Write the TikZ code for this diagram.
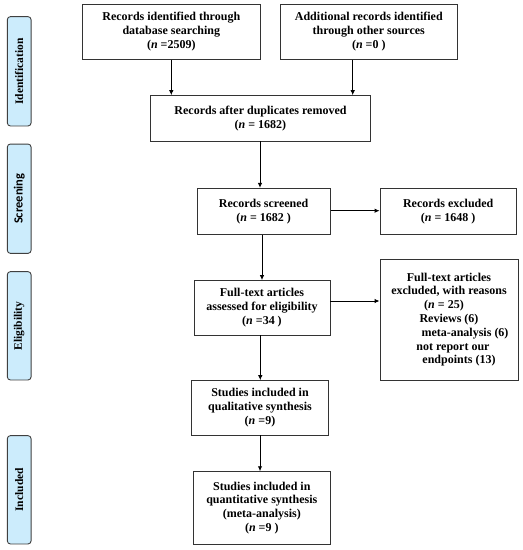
\documentclass[tikz,border=0pt]{standalone}
\usepackage{fontspec}
\setmainfont{Liberation Serif}
\newfontfamily\sidesans{Carlito}
\usetikzlibrary{arrows.meta}
\definecolor{sideblue}{RGB}{204,236,252}
\begin{document}
\begin{tikzpicture}[x=1pt,y=-1pt,
  box/.style={draw=black!80,line width=0.9pt,fill=white,align=center,inner sep=0pt,
    font=\fontsize{12}{13.8}\selectfont\bfseries},
  side/.style={draw=black!75,line width=0.9pt,fill=sideblue,rounded corners=3pt,
    minimum width=23.7pt,inner sep=0pt},
  sidetext/.style={rotate=90,inner sep=0pt,font=\fontsize{11.5}{12}\selectfont\bfseries},
  arr/.style={line width=0.9pt,-{Latex[length=5pt,width=4.5pt]}}]
\useasboundingbox (0,0) rectangle (523,550);
\fill[white] (0,0) rectangle (523,550);
% side labels
\node[side,minimum height=109.3pt] (sid) at (19.2,71.3) {};
\node[sidetext] (sidt) at (sid.center) {Identification};
\node[side,minimum height=109.3pt] (sscr) at (19.2,198.7) {};
\node[sidetext,font=\fontsize{12.5}{12}\sidesans\bfseries] (sscrt) at (sscr.center) {Screening};
\node[side,minimum height=108.3pt] (selg) at (19.2,325.8) {};
\node[sidetext] (selgt) at (selg.center) {Eligibility};
\node[side,minimum height=108.3pt] (sinc) at (19.2,489.8) {};
\node[sidetext] (sinct) at (sinc.center) {Included};
% main boxes
\node[box,minimum width=177.3pt,minimum height=55pt] (b1) at (171.3,31.8)
  {Records identified through\\database searching\\(\textit{n} =2509)};
\node[box,minimum width=177.7pt,minimum height=55pt] (b2) at (368.8,31.8)
  {Additional records identified\\through other sources\\(\textit{n} =0 )};
\node[box,minimum width=219.6pt,minimum height=45.3pt] (b3) at (260.5,118.3)
  {Records after duplicates removed\\(\textit{n} = 1682)};
\node[box,minimum width=132.7pt,minimum height=46pt] (scr) at (263.7,211.3)
  {Records screened\\(\textit{n} = 1682 )};
\node[box,minimum width=136.3pt,minimum height=46pt] (exc) at (448.2,211.3)
  {Records excluded\\(\textit{n} = 1648 )};
\node[box,minimum width=136pt,minimum height=54.3pt] (ass) at (262,307.8)
  {Full-text articles\\assessed for eligibility\\(\textit{n} =34 )};
\node[box,minimum width=138pt,minimum height=120.7pt] (ftx) at (449,319.7)
  {Full-text articles\\excluded, with reasons\\\hspace*{-10pt}(\textit{n} = 25)\\Reviews (6)\\\hspace*{32pt}meta-analysis (6)\\\hspace*{8pt}not report our\\\hspace*{20pt}endpoints (13)};
\node[box,minimum width=136.6pt,minimum height=54.3pt] (qual) at (260,407.8)
  {Studies included in\\qualitative synthesis\\(\textit{n} =9)};
\node[box,minimum width=136.3pt,minimum height=72.6pt] (quan) at (261.8,508)
  {Studies included in\\quantitative synthesis\\(meta-analysis)\\(\textit{n} =9 )};
% arrows
\draw[arr] (b1.south) -- (b1.south |- b3.north);
\draw[arr] ([xshift=-16.1pt]b2.south) -- ([xshift=-16.1pt]b2.south |- b3.north);
\draw[arr] (b3.south -| 260,0) -- (scr.north -| 260,0);
\draw[arr] (scr.east |- 0,210.7) -- (exc.west |- 0,210.7);
\draw[arr] (scr.south -| 262,0) -- (ass.north -| 262,0);
\draw[arr] (ass.east |- 0,301) -- (ftx.west |- 0,301);
\draw[arr] (ass.south -| 260.3,0) -- (qual.north -| 260.3,0);
\draw[arr] (qual.south -| 260,0) -- (quan.north -| 260,0);
\end{tikzpicture}
\end{document}
